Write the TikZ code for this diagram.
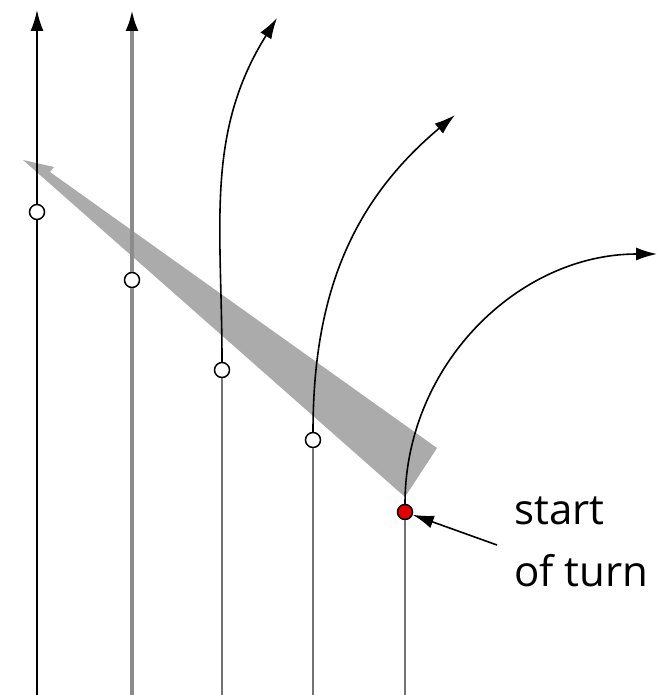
\documentclass[tikz,border=0pt]{standalone}
\usepackage{fontspec}
\setmainfont{Open Sans}
\usetikzlibrary{arrows.meta}

\begin{document}
\begin{tikzpicture}[x=1pt,y=-1pt,>={Latex[length=21pt,width=13pt]},
  ring/.style={circle,draw,line width=1.5pt,fill=white,inner sep=0pt,minimum size=15pt},
  stem/.style={draw=black!55,line width=2pt},
  turn/.style={->,line width=1.6pt}]
  \useasboundingbox (0,0) rectangle (657,695);
  % the gray wedge
  \fill[black!33] (23,160) -- (54,167) -- (50,172) -- (437,448) -- (405,497) -- cycle;
  % markers along each track
  \node[ring] (c1) at (37,212) {};
  \node[ring] (c2) at (132,280) {};
  \node[ring] (c3) at (222,370) {};
  \node[ring] (c4) at (313,440) {};
  \node[ring,fill=red!90!black] (c5) at (405,512) {};
  \coordinate (b1) at (37,695);
  \coordinate (b2) at (132,695);
  \coordinate (b3) at (222,695);
  \coordinate (b4) at (313,695);
  \coordinate (b5) at (405,695);
  \coordinate (t1) at (37,10);
  \coordinate (t2) at (132,10);
  \coordinate (t3) at (277,18);
  \coordinate (t4) at (455,115);
  \coordinate (t5) at (657,254);
  % straight tracks
  \draw[line width=1.8pt] (b1) -- (c1);
  \draw[->,line width=1.8pt] (c1) -- (t1);
  \draw[draw=black!45,line width=3.4pt] (b2) -- (c2);
  \draw[draw=black!45,line width=3.4pt,-{Latex[length=21pt,width=13pt,color=black]}] (c2) -- (t2);
  \draw[stem] (b3) -- (c3);
  \draw[stem] (b4) -- (c4);
  \draw[stem] (b5) -- (c5);
  % turning tracks
  \draw[turn] (c3) to[out=90,in=-122] (t3);
  \draw[turn] (c4) to[out=90,in=-140] (t4);
  \draw[turn] (c5) to[out=90,in=180] (t5);
  % label
  \node[font=\fontsize{42}{62}\selectfont,align=left,anchor=north west,inner sep=0pt] (lbl) at (514,497) {start\\of turn};
  \draw[->,line width=1.6pt] (497,545) -- (c5);
\end{tikzpicture}
\end{document}
